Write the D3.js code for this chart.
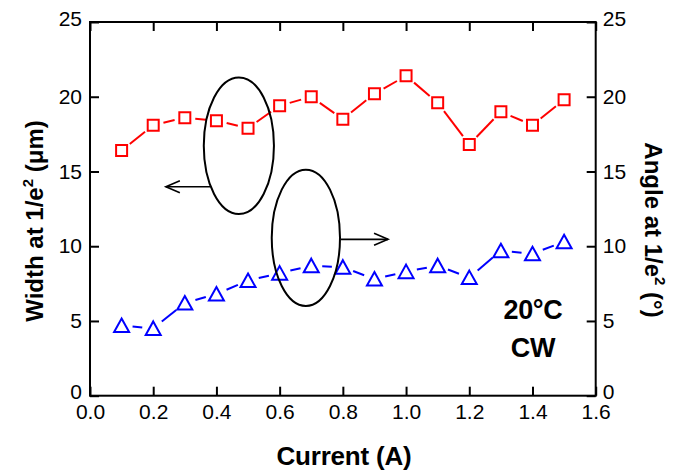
<!DOCTYPE html>
<html>
<head>
<meta charset="utf-8">
<script src="https://cdn.jsdelivr.net/npm/d3@7"></script>
<style>
  html, body { margin: 0; padding: 0; background: #fff; }
  svg { display: block; }
  text { font-family: "Liberation Sans", Arial, sans-serif; fill: #000; }
</style>
</head>
<body>
<svg id="chart" width="680" height="474"></svg>
<script>
// ---- data ----
const current = [0.1, 0.2, 0.3, 0.4, 0.5, 0.6, 0.7, 0.8, 0.9, 1.0, 1.1, 1.2, 1.3, 1.4, 1.5];
const widthVals = [16.4, 18.1, 18.6, 18.4, 17.9, 19.4, 20.0, 18.5, 20.2, 21.4, 19.6, 16.8, 19.0, 18.1, 19.8];
const angleVals = [4.7, 4.5, 6.2, 6.8, 7.7, 8.2, 8.7, 8.6, 7.8, 8.3, 8.7, 7.9, 9.7, 9.5, 10.3];
const xTicks = [0.0, 0.2, 0.4, 0.6, 0.8, 1.0, 1.2, 1.4, 1.6];
const yTicks = [0, 5, 10, 15, 20, 25];
// annotation ellipses / arrows (data units)
const ellipses = [
  { cx: 0.471, cy: 16.72, rx: 0.111, ry: 4.57 },
  { cx: 0.683, cy: 10.56, rx: 0.108, ry: 4.56 }
];
const arrows = [
  { x1: 0.38, x2: 0.24, y: 13.98 },
  { x1: 0.794, x2: 0.943, y: 10.46 }
];

// ---- layout ----
const svg = d3.select("#chart");
const L = 90, T = 22, R = 595.7, B = 395.7;
const x = d3.scaleLinear().domain([0, 1.6]).range([L, R]);
const yL = d3.scaleLinear().domain([0, 25]).range([B, T]);
const yR = d3.scaleLinear().domain([0, 25]).range([B, T]);

const fmtX = d3.format(".1f");
const tickFont = "21px";

function styleAxis(g) {
  g.select(".domain").remove();
  g.selectAll(".tick line").attr("stroke", "#000").attr("stroke-width", 2);
  g.selectAll(".tick text").attr("font-size", tickFont)
    .attr("font-family", "'Liberation Sans', Arial, sans-serif").attr("fill", "#000");
}
// end labels of the y axes sit a little inside, as in the reference
function nudgeY(g) {
  g.selectAll(".tick text").attr("dy", d => d === 0 ? "0.15em" : d === 25 ? "0.15em" : "0.32em");
}

svg.append("g").attr("transform", `translate(0,${B})`)
  .call(d3.axisBottom(x).tickValues(xTicks).tickFormat(fmtX).tickSize(-9).tickPadding(8))
  .call(styleAxis);
svg.append("g").attr("transform", `translate(0,${T})`)
  .call(d3.axisTop(x).tickValues(xTicks).tickFormat("").tickSize(-9))
  .call(styleAxis);
svg.append("g").attr("transform", `translate(${L},0)`)
  .call(d3.axisLeft(yL).tickValues(yTicks).tickSize(-9).tickPadding(8))
  .call(styleAxis).call(nudgeY);
svg.append("g").attr("transform", `translate(${R},0)`)
  .call(d3.axisRight(yR).tickValues(yTicks).tickSize(-9).tickPadding(7))
  .call(styleAxis).call(nudgeY);

// frame
svg.append("rect").attr("x", L).attr("y", T).attr("width", R - L).attr("height", B - T)
  .attr("fill", "none").attr("stroke", "#000").attr("stroke-width", 2);

// ---- series with gaps around markers ----
function gappedSegments(xs, ys, scaleY, gap) {
  const pts = xs.map((v, i) => [x(v), scaleY(ys[i])]);
  const segs = [];
  for (let i = 0; i < pts.length - 1; i++) {
    const [ax, ay] = pts[i], [bx, by] = pts[i + 1];
    const dx = bx - ax, dy = by - ay, len = Math.hypot(dx, dy);
    if (len <= 2 * gap) continue;
    const ux = dx / len, uy = dy / len;
    segs.push([ax + ux * gap, ay + uy * gap, bx - ux * gap, by - uy * gap]);
  }
  return segs;
}

const red = "#ff0000", blue = "#0000ff";

svg.append("g").selectAll("line").data(gappedSegments(current, widthVals, yL, 10.5)).join("line")
  .attr("x1", d => d[0]).attr("y1", d => d[1]).attr("x2", d => d[2]).attr("y2", d => d[3])
  .attr("stroke", red).attr("stroke-width", 2);
svg.append("g").selectAll("path").data(current).join("path")
  .attr("d", d3.symbol().type(d3.symbolSquare).size(121))
  .attr("transform", (d, i) => `translate(${x(d)},${yL(widthVals[i])})`)
  .attr("fill", "none").attr("stroke", red).attr("stroke-width", 2);

svg.append("g").selectAll("line").data(gappedSegments(current, angleVals, yR, 11)).join("line")
  .attr("x1", d => d[0]).attr("y1", d => d[1]).attr("x2", d => d[2]).attr("y2", d => d[3])
  .attr("stroke", blue).attr("stroke-width", 2);
const tri = "M0,-7L7.5,6.5L-7.5,6.5Z";
svg.append("g").selectAll("path").data(current).join("path")
  .attr("d", tri)
  .attr("transform", (d, i) => `translate(${x(d)},${yR(angleVals[i])})`)
  .attr("fill", "none").attr("stroke", blue).attr("stroke-width", 2);

// ---- annotations ----
const pxPerX = x(1) - x(0), pxPerY = yL(0) - yL(1);
svg.append("g").selectAll("ellipse").data(ellipses).join("ellipse")
  .attr("cx", d => x(d.cx)).attr("cy", d => yL(d.cy))
  .attr("rx", d => d.rx * pxPerX).attr("ry", d => d.ry * pxPerY)
  .attr("fill", "none").attr("stroke", "#000").attr("stroke-width", 2);
const ag = svg.append("g").attr("stroke", "#000").attr("stroke-width", 1.6).attr("fill", "none");
arrows.forEach(a => {
  const x1 = x(a.x1), x2 = x(a.x2), yy = yL(a.y);
  const dir = Math.sign(x2 - x1);
  ag.append("line").attr("x1", x1).attr("y1", yy).attr("x2", x2).attr("y2", yy);
  ag.append("path").attr("d", `M${x2 - dir * 14},${yy - 6}L${x2},${yy}L${x2 - dir * 14},${yy + 6}`);
});

svg.append("text").attr("x", 533).attr("y", 319).attr("text-anchor", "middle")
  .attr("font-size", "27px").attr("font-weight", "bold").attr("letter-spacing", "-0.3").text("20°C");
svg.append("text").attr("x", 533).attr("y", 356.5).attr("text-anchor", "middle")
  .attr("font-size", "27px").attr("font-weight", "bold").attr("letter-spacing", "-0.3").text("CW");

// ---- axis titles ----
svg.append("text").attr("x", 344).attr("y", 465).attr("text-anchor", "middle")
  .attr("font-size", "26px").attr("font-weight", "bold").attr("letter-spacing", "-0.2").text("Current (A)");

const lt = svg.append("text").attr("transform", "translate(43,221) rotate(-90)")
  .attr("text-anchor", "middle").attr("font-size", "24px").attr("font-weight", "bold");
lt.append("tspan").text("Width at 1/e");
lt.append("tspan").attr("font-size", "15px").attr("dy", "-10").text("2");
lt.append("tspan").attr("dy", "10").text(" (μm)");

const rt = svg.append("text").attr("transform", "translate(645,230) rotate(90)")
  .attr("text-anchor", "middle").attr("font-size", "24px").attr("font-weight", "bold");
rt.append("tspan").text("Angle at 1/e");
rt.append("tspan").attr("font-size", "15px").attr("dy", "-10").text("2");
rt.append("tspan").attr("dy", "10").text(" (°)");
</script>
</body>
</html>
